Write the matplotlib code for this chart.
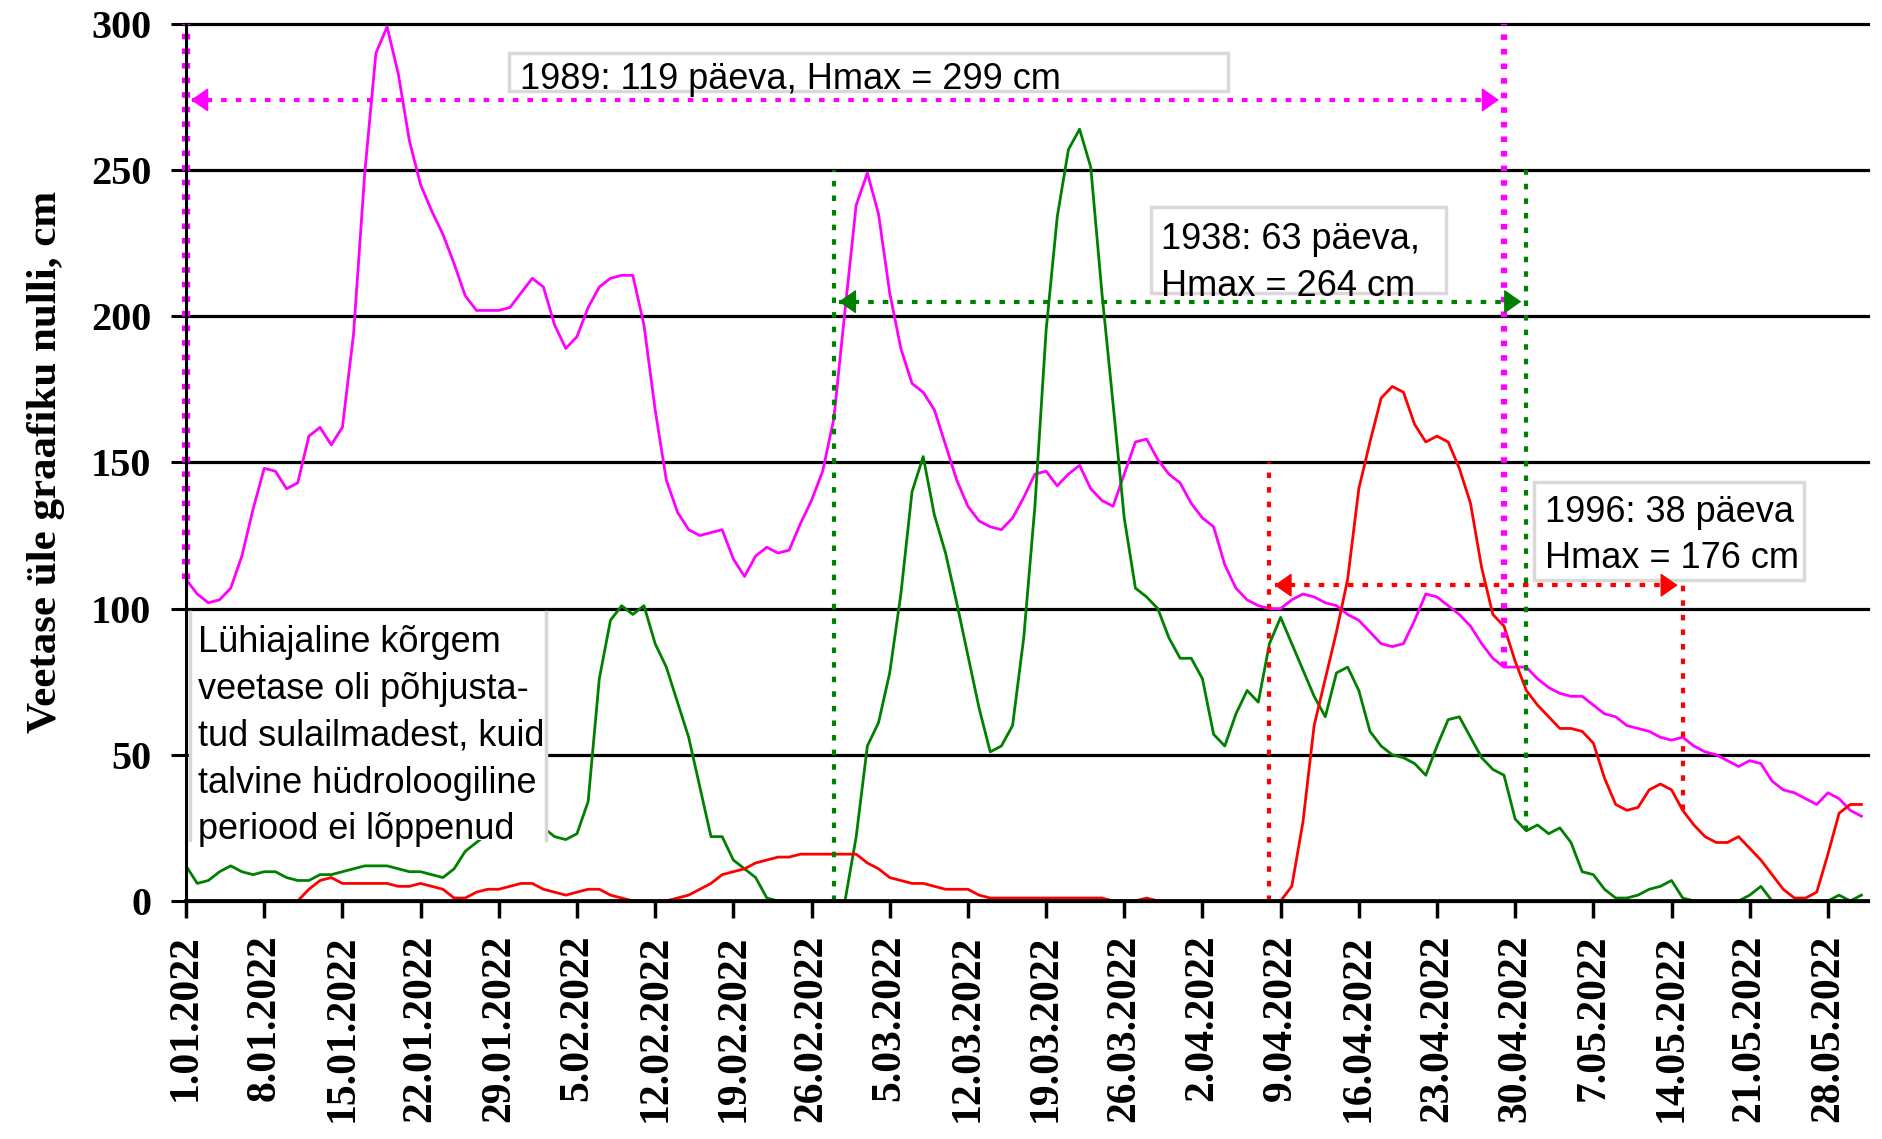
import numpy as np
import pandas as pd
import matplotlib
matplotlib.use("Agg")
import matplotlib.pyplot as plt
import matplotlib.dates as mdates
from matplotlib.patches import Rectangle

# daily water level above gauge zero, cm, plotted on the 2022 calendar
dates = pd.date_range("2022-01-01", "2022-05-31", freq="D")
tick_dates = pd.date_range("2022-01-01", "2022-05-28", freq="7D")
tick_labels = [f"{d.day}.{d.month:02d}.{d.year}" for d in tick_dates]
y_ticks = [0, 50, 100, 150, 200, 250, 300]

h1989 = [110, 105, 102, 103, 107, 118, 134, 148, 147, 141,
         143, 159, 162, 156, 162, 194, 249, 290, 299, 283,
         260, 245, 236, 228, 218, 207, 202, 202, 202, 203,
         208, 213, 210, 197, 189, 193, 203, 210, 213, 214,
         214, 197, 168, 144, 133, 127, 125, 126, 127, 117,
         111, 118, 121, 119, 120, 129, 137, 147, 165, 202,
         238, 249, 235, 208, 189, 177, 174, 168, 156, 144,
         135, 130, 128, 127, 131, 138, 146, 147, 142, 146,
         149, 141, 137, 135, 146, 157, 158, 151, 146, 143,
         136, 131, 128, 115, 107, 103, 101, 100, 100, 103,
         105, 104, 102, 101, 98, 96, 92, 88, 87, 88,
         96, 105, 104, 101, 98, 94, 88, 83, 80, 80,
         80, 76, 73, 71, 70, 70, 67, 64, 63, 60,
         59, 58, 56, 55, 56, 53, 51, 50, 48, 46,
         48, 47, 41, 38, 37, 35, 33, 37, 35, 31,
         29]

h1938 = [12, 6, 7, 10, 12, 10, 9, 10, 10, 8,
         7, 7, 9, 9, 10, 11, 12, 12, 12, 11,
         10, 10, 9, 8, 11, 17, 20, 23, 25, 26,
         26, 26, 25, 22, 21, 23, 34, 76, 96, 101,
         98, 101, 88, 80, 68, 56, 39, 22, 22, 14,
         11, 8, 1, 0, 0, 0, 0, 0, 0, 0,
         22, 53, 61, 78, 105, 140, 152, 132, 119, 102,
         84, 66, 51, 53, 60, 90, 135, 195, 234, 257,
         264, 251, 208, 170, 131, 107, 104, 100, 90, 83,
         83, 76, 57, 53, 64, 72, 68, 88, 97, 88,
         79, 70, 63, 78, 80, 72, 58, 53, 50, 49,
         47, 43, 53, 62, 63, 56, 49, 45, 43, 28,
         24, 26, 23, 25, 20, 10, 9, 4, 1, 1,
         2, 4, 5, 7, 1, 0, 0, 0, 0, 0,
         2, 5, 0, 0, 0, 0, 0, 0, 2, 0,
         2]

h1996 = [0, 0, 0, 0, 0, 0, 0, 0, 0, 0,
         0, 4, 7, 8, 6, 6, 6, 6, 6, 5,
         5, 6, 5, 4, 1, 1, 3, 4, 4, 5,
         6, 6, 4, 3, 2, 3, 4, 4, 2, 1,
         0, 0, 0, 0, 1, 2, 4, 6, 9, 10,
         11, 13, 14, 15, 15, 16, 16, 16, 16, 16,
         16, 13, 11, 8, 7, 6, 6, 5, 4, 4,
         4, 2, 1, 1, 1, 1, 1, 1, 1, 1,
         1, 1, 1, 0, 0, 0, 1, 0, 0, 0,
         0, 0, 0, 0, 0, 0, 0, 0, 0, 5,
         27, 60, 76, 92, 110, 141, 157, 172, 176, 174,
         163, 157, 159, 157, 148, 136, 114, 98, 94, 82,
         72, 67, 63, 59, 59, 58, 54, 42, 33, 31,
         32, 38, 40, 38, 31, 26, 22, 20, 20, 22,
         18, 14, 9, 4, 1, 1, 3, 16, 30, 33,
         33]

# winter hydrological period: first day (index from 1 Jan) and its length in days
period_start = {"1989": 0, "1938": 58, "1996": 97}
period_days = {"1989": 119, "1938": 63, "1996": 38}

note_text = ["Lühiajaline kõrgem", "veetase oli põhjusta-",
             "tud sulailmadest, kuid", "talvine hüdroloogiline",
             "periood ei lõppenud"]

plt.rcParams["lines.scale_dashes"] = False
serif = dict(family="Liberation Serif", weight="bold")
sans = dict(family="Liberation Sans", size=26, color="black")

fig = plt.figure(figsize=(18.83, 11.39), dpi=100)
ax = fig.add_axes([0.0988, 0.2090, 0.8933, 0.7700])

x0 = mdates.date2num(dates[0])
x = mdates.date2num(dates)


def day(d):
    return x0 + d


for v in y_ticks:
    ax.axhline(v, color="black", lw=2.3, zorder=1, clip_on=False)

series = {"1989": (h1989, "#FF00FF"), "1938": (h1938, "#008000"), "1996": (h1996, "#FF0000")}
for name, (vals, col) in series.items():
    ax.plot(x, vals, color=col, lw=2.0, zorder=2)


def dotted(xs, ys, col, lw, z=5, clip=True):
    ax.plot(xs, ys, color=col, lw=lw, dashes=(4, 6.5), dash_capstyle="butt",
            zorder=z, clip_on=clip)


def head(tip, y, col, direction):
    ax.annotate("", xy=(tip, y), xytext=(tip + direction * 1.3, y),
                arrowprops=dict(arrowstyle="-|>,head_length=0.5,head_width=0.35",
                                mutation_scale=22, color=col, lw=1,
                                shrinkA=0, shrinkB=0), zorder=6)


# arrow level, tops of the two verticals and width of the verticals
arrow_style = {"1989": (274, (300, 300), 4.5),
               "1938": (205, (250, 250), 3.0),
               "1996": (108, (150, 109), 3.0)}

for name, (vals, col) in series.items():
    level, (top_a, top_b), vlw = arrow_style[name]
    a = period_start[name]
    b = a + period_days[name] - 1
    dotted([day(a), day(a)], [vals[a], top_a], col, vlw + 1.5 * (a == 0), z=3, clip=False)
    dotted([day(b), day(b)], [vals[b], top_b], col, vlw)
    dotted([day(a + 0.5), day(b - 0.5)], [level, level], col, 3.0)
    head(day(a + 0.45), level, col, 1)
    head(day(b - 0.45), level, col, -1)


def box(d0, d1, y0, y1):
    r = Rectangle((day(d0), y0), d1 - d0, y1 - y0, facecolor="white",
                  edgecolor="#D9D9D9", lw=2.5, zorder=4)
    ax.add_patch(r)
    return r


r = box(28.9, 93.3, 277, 290)
ax.text(day(29.9), 281, f"1989: {period_days['1989']} päeva, Hmax = {max(h1989)} cm",
        va="center", ha="left", zorder=6, **sans)

r = box(86.4, 112.8, 208, 237.4)
ax.text(day(87.3), 226.3, f"1938: {period_days['1938']} päeva,",
        va="center", ha="left", zorder=6, **sans)
t = ax.text(day(87.3), 210.3, f"Hmax = {max(h1938)} cm",
            va="center", ha="left", zorder=6, **sans)
t.set_clip_path(r)

r = box(120.7, 144.9, 109.8, 143.3)
ax.text(day(121.7), 133, f"1996: {period_days['1996']} päeva",
        va="center", ha="left", zorder=6, **sans)
ax.text(day(121.7), 117.3, f"Hmax = {max(h1996)} cm",
        va="center", ha="left", zorder=6, **sans)

# note box: white face, grey sides only
ax.add_patch(Rectangle((day(0.36), 21), 31.84, 78, facecolor="white", edgecolor="none", zorder=4))
for d in (0.36, 32.2):
    ax.plot([day(d), day(d)], [21, 99], color="#D6D6D6", lw=2.5, zorder=4.5)
for i, line in enumerate(note_text):
    ax.text(day(1.1), 88.3 - 16 * i, line, va="center", ha="left", zorder=6, **sans)

ax.set_xlim(x0, x0 + 150.6)
ax.set_ylim(0, 300)
ax.set_yticks(y_ticks)
ax.set_yticklabels([str(v) for v in y_ticks], fontsize=29, **serif)
ax.set_xticks(mdates.date2num(tick_dates))
ax.set_xticklabels(tick_labels, rotation=90, fontsize=30, **serif)
ax.tick_params(axis="x", direction="out", length=12, width=2.5, pad=12, colors="black")
ax.tick_params(axis="y", direction="out", length=11, width=2.2, pad=14, colors="black")

ax.set_ylabel("Veetase üle graafiku nulli, cm", fontsize=31, **serif)
ax.yaxis.set_label_coords(-0.072, 0.5)

for s in ("top", "right"):
    ax.spines[s].set_visible(False)
ax.spines["left"].set_linewidth(2.2)
ax.spines["bottom"].set_linewidth(2.7)
ax.spines["left"].set_zorder(7)
ax.spines["bottom"].set_zorder(7)

fig.savefig("out.png", dpi=100, facecolor="white")
